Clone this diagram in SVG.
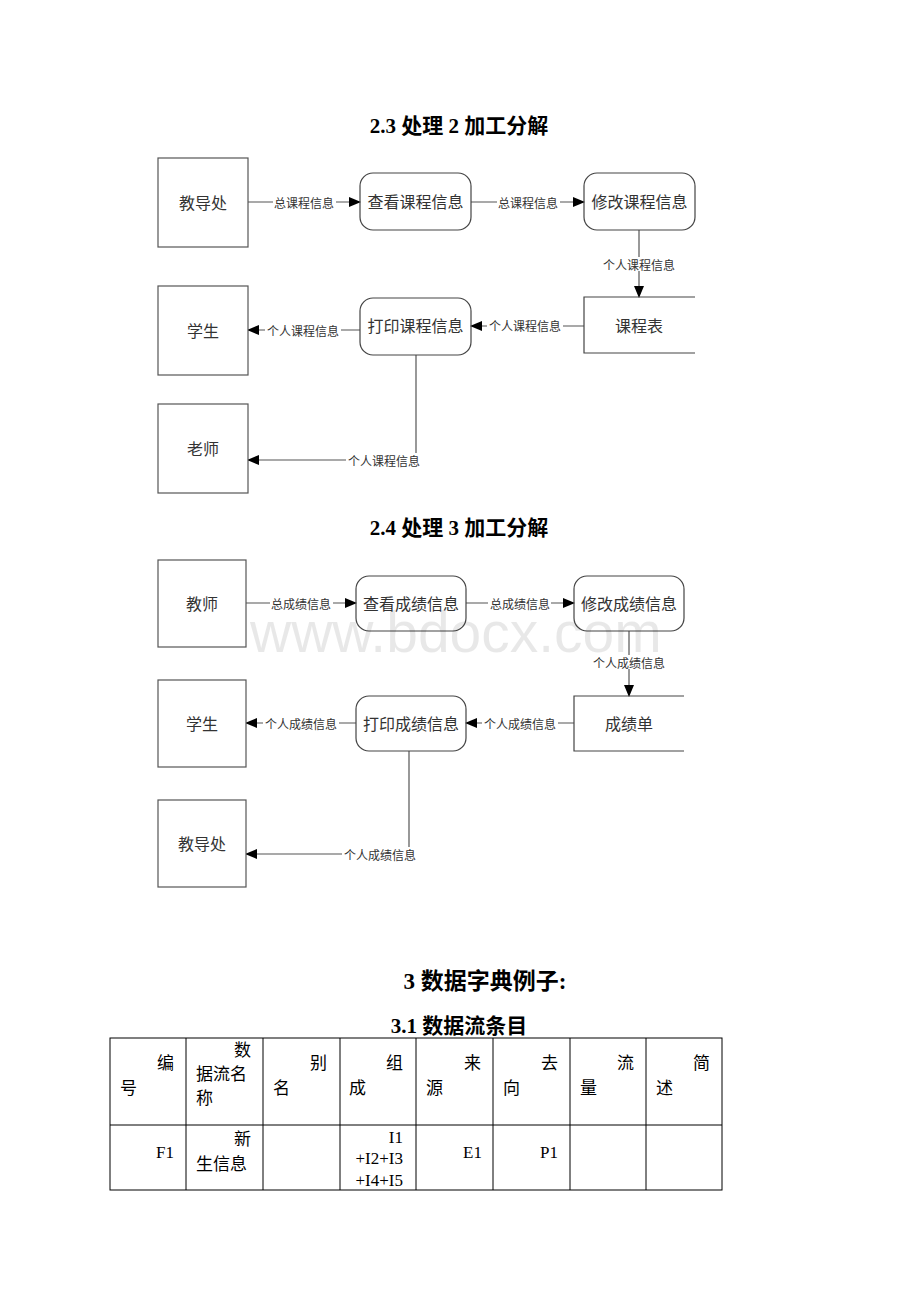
<svg xmlns="http://www.w3.org/2000/svg" width="920" height="1302" viewBox="0 0 920 1302">
<style>
.title{font-family:"Liberation Serif","Noto Sans CJK SC",serif;font-weight:bold;fill:#000;text-anchor:middle}
.ent{fill:#fff;stroke:#555;stroke-width:1.2}
.proc{fill:none;stroke:#444;stroke-width:1.2}
.nt{font-family:"Noto Sans CJK SC",sans-serif;font-size:16px;fill:#333;text-anchor:middle;dominant-baseline:central}
.edge{fill:none;stroke:#555;stroke-width:1.2}
.lbl{font-family:"Noto Sans CJK SC",sans-serif;font-size:12px;fill:#333;text-anchor:middle;dominant-baseline:central}
.bg{fill:#fff}
.tb{fill:none;stroke:#000;stroke-width:1}
.tt{font-family:"Liberation Serif","Noto Sans CJK SC",serif;font-size:17px;fill:#000}
.r{text-anchor:end}
.wm{font-family:"Liberation Sans",sans-serif;font-size:57px;fill:#000;fill-opacity:0.09}
</style>
<defs>
<marker id="ah" markerWidth="12" markerHeight="10" refX="11" refY="5" orient="auto" markerUnits="userSpaceOnUse">
<path d="M0,0 L12,5 L0,10 Z" fill="#000"/>
</marker>
</defs>
<rect width="920" height="1302" fill="#fff"/>

<text class="title" x="459" y="133" font-size="21">2.3 处理 2 加工分解</text>

<g id="connectors1">
<path class="edge" d="M248,202 H360" marker-end="url(#ah)"/>
<path class="edge" d="M471,202 H584" marker-end="url(#ah)"/>
<path class="edge" d="M639,230 V297" marker-end="url(#ah)"/>
<path class="edge" d="M584,326 H471" marker-end="url(#ah)"/>
<path class="edge" d="M360,330 H248" marker-end="url(#ah)"/>
<path class="edge" d="M416,355 V460 H248" marker-end="url(#ah)"/>
<rect class="bg" x="273" y="195" width="63" height="14"/><text class="lbl" x="304" y="202">总课程信息</text>
<rect class="bg" x="497" y="195" width="63" height="14"/><text class="lbl" x="528" y="202">总课程信息</text>
<rect class="bg" x="601" y="257" width="76" height="14"/><text class="lbl" x="639" y="264">个人课程信息</text>
<rect class="bg" x="487" y="319" width="76" height="14"/><text class="lbl" x="525" y="325">个人课程信息</text>
<rect class="bg" x="265" y="323" width="76" height="14"/><text class="lbl" x="303" y="330">个人课程信息</text>
<rect class="bg" x="346" y="453" width="76" height="14"/><text class="lbl" x="384" y="460">个人课程信息</text>
</g>

<g id="n1-jiaodaochu"><rect class="ent" x="158" y="158" width="90" height="89"/><text class="nt" x="203" y="202">教导处</text></g>
<g id="n1-chakan"><rect class="proc" x="360" y="173" width="111" height="57" rx="13"/><text class="nt" x="415.5" y="201">查看课程信息</text></g>
<g id="n1-xiugai"><rect class="proc" x="584" y="173" width="111" height="57" rx="13"/><text class="nt" x="639.5" y="201">修改课程信息</text></g>
<g id="n1-kechengbiao"><path class="proc" d="M695,297 H584 V353 H695"/><text class="nt" x="639" y="325">课程表</text></g>
<g id="n1-dayin"><rect class="proc" x="360" y="298" width="111" height="57" rx="13"/><text class="nt" x="415.5" y="325">打印课程信息</text></g>
<g id="n1-xuesheng"><rect class="ent" x="158" y="286" width="90" height="89"/><text class="nt" x="203" y="330">学生</text></g>
<g id="n1-laoshi"><rect class="ent" x="158" y="404" width="90" height="89"/><text class="nt" x="203" y="448">老师</text></g>

<text class="title" x="459" y="535" font-size="21">2.4 处理 3 加工分解</text>

<g id="connectors2">
<path class="edge" d="M246,603 H356" marker-end="url(#ah)"/>
<path class="edge" d="M466,603 H574" marker-end="url(#ah)"/>
<path class="edge" d="M629,631 V696" marker-end="url(#ah)"/>
<path class="edge" d="M574,723 H466" marker-end="url(#ah)"/>
<path class="edge" d="M356,723 H246" marker-end="url(#ah)"/>
<path class="edge" d="M409,751 V854 H246" marker-end="url(#ah)"/>
<rect class="bg" x="270" y="596" width="63" height="14"/><text class="lbl" x="301" y="603">总成绩信息</text>
<rect class="bg" x="488" y="596" width="63" height="14"/><text class="lbl" x="520" y="603">总成绩信息</text>
<rect class="bg" x="591" y="655" width="76" height="14"/><text class="lbl" x="629" y="662">个人成绩信息</text>
<rect class="bg" x="482" y="716" width="76" height="14"/><text class="lbl" x="520" y="723">个人成绩信息</text>
<rect class="bg" x="263" y="716" width="76" height="14"/><text class="lbl" x="301" y="723">个人成绩信息</text>
<rect class="bg" x="342" y="847" width="76" height="14"/><text class="lbl" x="380" y="854">个人成绩信息</text>
</g>

<g id="n2-jiaoshi"><rect class="ent" x="158" y="560" width="88" height="87"/><text class="nt" x="202" y="603">教师</text></g>
<g id="n2-chakan"><rect class="proc" x="356" y="576" width="110" height="55" rx="13"/><text class="nt" x="411" y="603">查看成绩信息</text></g>
<g id="n2-xiugai"><rect class="proc" x="574" y="576" width="110" height="55" rx="13"/><text class="nt" x="629" y="603">修改成绩信息</text></g>
<g id="n2-chengjidan"><path class="proc" d="M684,696 H574 V751 H684"/><text class="nt" x="629" y="723">成绩单</text></g>
<g id="n2-dayin"><rect class="proc" x="356" y="696" width="110" height="55" rx="13"/><text class="nt" x="411" y="723">打印成绩信息</text></g>
<g id="n2-xuesheng"><rect class="ent" x="158" y="680" width="88" height="87"/><text class="nt" x="202" y="723">学生</text></g>
<g id="n2-jiaodaochu"><rect class="ent" x="158" y="800" width="88" height="87"/><text class="nt" x="202" y="843">教导处</text></g>

<text class="wm" x="250" y="652">www.bdocx.com</text>

<text class="title" x="485" y="989" font-size="23">3 数据字典例子:</text>
<text class="title" x="459" y="1033" font-size="21">3.1 数据流条目</text>

<g id="table">
<rect class="tb" x="110" y="1038" width="612" height="152"/>
<line class="tb" x1="110" y1="1125" x2="722" y2="1125"/>
<line class="tb" x1="186" y1="1038" x2="186" y2="1190"/>
<line class="tb" x1="263" y1="1038" x2="263" y2="1190"/>
<line class="tb" x1="340" y1="1038" x2="340" y2="1190"/>
<line class="tb" x1="416" y1="1038" x2="416" y2="1190"/>
<line class="tb" x1="493" y1="1038" x2="493" y2="1190"/>
<line class="tb" x1="570" y1="1038" x2="570" y2="1190"/>
<line class="tb" x1="646" y1="1038" x2="646" y2="1190"/>

<text class="tt r" x="174" y="1069">编</text><text class="tt" x="120" y="1094">号</text>
<text class="tt r" x="251" y="1056">数</text><text class="tt" x="196" y="1080">据流名</text><text class="tt" x="196" y="1104">称</text>
<text class="tt r" x="327" y="1069">别</text><text class="tt" x="273" y="1094">名</text>
<text class="tt r" x="403" y="1069">组</text><text class="tt" x="349" y="1094">成</text>
<text class="tt r" x="481" y="1069">来</text><text class="tt" x="426" y="1094">源</text>
<text class="tt r" x="558" y="1069">去</text><text class="tt" x="503" y="1094">向</text>
<text class="tt r" x="634" y="1069">流</text><text class="tt" x="580" y="1094">量</text>
<text class="tt r" x="710" y="1069">简</text><text class="tt" x="656" y="1094">述</text>

<text class="tt r" x="174" y="1158">F1</text>
<text class="tt r" x="251" y="1145">新</text><text class="tt" x="196" y="1170">生信息</text>
<text class="tt r" x="403" y="1143">I1</text><text class="tt r" x="403" y="1164">+I2+I3</text><text class="tt r" x="403" y="1186">+I4+I5</text>
<text class="tt r" x="482" y="1158">E1</text>
<text class="tt r" x="558" y="1158">P1</text>
</g>
</svg>
